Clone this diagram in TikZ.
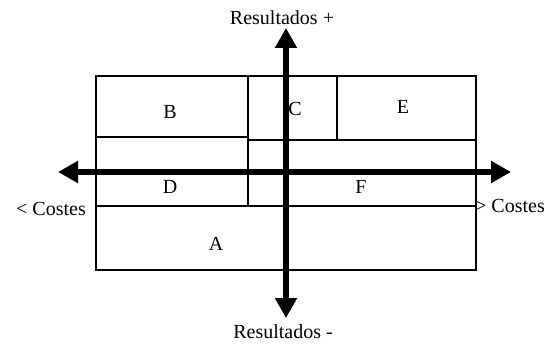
\documentclass[tikz,border=0pt]{standalone}
\usepackage{fontspec}
\setmainfont{Liberation Serif}
\usetikzlibrary{arrows.meta}

\begin{document}
\begin{tikzpicture}[x=1pt,y=-1pt,
  zona/.style={draw=black,line width=1.8pt},
  txt/.style={font=\fontsize{20}{24}\selectfont,inner sep=0pt,anchor=base},
  eje/.style={{Triangle[length=20pt,width=21pt]}-{Triangle[length=20pt,width=21pt]},line width=6pt}]
  \useasboundingbox (0,0) rectangle (556,347);
  % zonas
  \draw[zona] (96,76) rectangle (248,137);
  \draw[zona] (248,76) rectangle (337,140);
  \draw[zona] (337,76) rectangle (476,140);
  \draw[zona] (96,137) rectangle (248,206);
  \draw[zona] (248,140) rectangle (476,206);
  \draw[zona] (96,206) rectangle (476,270);
  \node[txt] (b) at (170,119) {B};
  \node[txt] (c) at (295,116) {C};
  \node[txt] (e) at (403,114) {E};
  \node[txt] (d) at (170,194) {D};
  \node[txt] (f) at (361,194) {F};
  \node[txt] (a) at (216,250) {A};
  % ejes
  \coordinate (izq) at (58,172);
  \coordinate (der) at (511,172);
  \coordinate (arr) at (286,28);
  \coordinate (abj) at (286,318);
  \draw[eje] (izq) -- (der);
  \draw[eje] (abj) -- (arr);
  \node[txt] (rmas) at (282,25) {Resultados +};
  \node[txt] (rmenos) at (283,338) {Resultados -};
  \node[txt,anchor=base east] (cmenos) at (86,215) {< Costes};
  \node[txt,anchor=base west] (cmas) at (475,213) {> Costes};
\end{tikzpicture}
\end{document}
